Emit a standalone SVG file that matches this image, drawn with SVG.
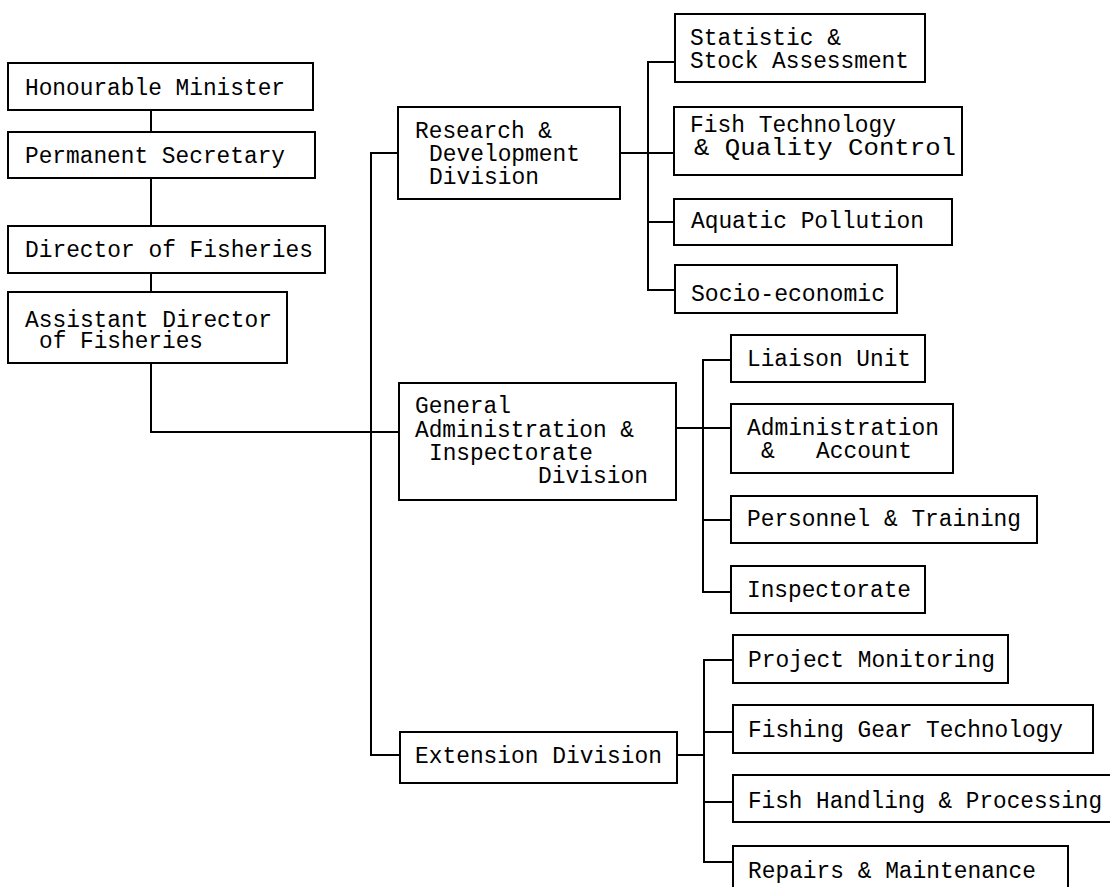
<svg xmlns="http://www.w3.org/2000/svg" width="1110" height="887" viewBox="0 0 1110 887">
<style>
.box{fill:#fff;stroke:#000;stroke-width:2}
.ln{fill:none;stroke:#000;stroke-width:2}
text{font-family:"Liberation Mono","Courier New",monospace;font-size:23px;fill:#000}
</style>
<rect x="0" y="0" width="1110" height="887" fill="#fff"/>
<g id="connectors">
<path class="ln" d="M151 110V132M151 178V226M151 273V292M151 363V432H398"/>
<path class="ln" d="M398 153H371V755H400"/>
<path class="ln" d="M620 153H648M675 62H648V290H675M648 222H675M648 153H674"/>
<path class="ln" d="M676 428H731M731 360H703V592H731M703 520H731"/>
<path class="ln" d="M677 755H704M733 660H704V862H733M704 732H733M704 802H733"/>
</g>
<g id="minister"><rect class="box" x="8" y="63" width="305" height="47"/><text x="25" y="95" textLength="260" lengthAdjust="spacingAndGlyphs">Honourable Minister</text></g>
<g id="secretary"><rect class="box" x="8" y="132" width="307" height="46"/><text x="25" y="163" textLength="260" lengthAdjust="spacingAndGlyphs">Permanent Secretary</text></g>
<g id="director"><rect class="box" x="8" y="226" width="317" height="47"/><text x="25" y="257" textLength="288" lengthAdjust="spacingAndGlyphs">Director of Fisheries</text></g>
<g id="asst-director"><rect class="box" x="8" y="292" width="279" height="71"/><text x="25" y="327" textLength="247" lengthAdjust="spacingAndGlyphs">Assistant Director</text><text x="39" y="348" textLength="164" lengthAdjust="spacingAndGlyphs">of Fisheries</text></g>
<g id="research"><rect class="box" x="398" y="107" width="222" height="92"/><text x="415" y="138" textLength="137" lengthAdjust="spacingAndGlyphs">Research &amp;</text><text x="429" y="161" textLength="151" lengthAdjust="spacingAndGlyphs">Development</text><text x="429" y="184" textLength="110" lengthAdjust="spacingAndGlyphs">Division</text></g>
<g id="statistic"><rect class="box" x="675" y="14" width="250" height="68"/><text x="690" y="45" textLength="151" lengthAdjust="spacingAndGlyphs">Statistic &amp;</text><text x="690" y="68" textLength="219" lengthAdjust="spacingAndGlyphs">Stock Assessment</text></g>
<g id="fishtech"><rect class="box" x="674" y="107" width="288" height="68"/><text x="690" y="132" textLength="206" lengthAdjust="spacingAndGlyphs">Fish Technology</text><text x="694" y="155" textLength="262" lengthAdjust="spacingAndGlyphs">&amp; Quality Control</text></g>
<g id="aquatic"><rect class="box" x="674" y="199" width="278" height="46"/><text x="691" y="228" textLength="233" lengthAdjust="spacingAndGlyphs">Aquatic Pollution</text></g>
<g id="socio"><rect class="box" x="675" y="265" width="222" height="48"/><text x="691" y="301" textLength="194" lengthAdjust="spacingAndGlyphs">Socio-economic</text></g>
<g id="genadmin"><rect class="box" x="399" y="383" width="277" height="117"/><text x="415" y="413" textLength="96" lengthAdjust="spacingAndGlyphs">General</text><text x="415" y="437" textLength="219" lengthAdjust="spacingAndGlyphs">Administration &amp;</text><text x="429" y="460" textLength="164" lengthAdjust="spacingAndGlyphs">Inspectorate</text><text x="538" y="483" textLength="110" lengthAdjust="spacingAndGlyphs">Division</text></g>
<g id="liaison"><rect class="box" x="731" y="335" width="194" height="47"/><text x="747" y="366" textLength="164" lengthAdjust="spacingAndGlyphs">Liaison Unit</text></g>
<g id="adminacc"><rect class="box" x="731" y="404" width="222" height="69"/><text x="747" y="435" textLength="192" lengthAdjust="spacingAndGlyphs">Administration</text><text x="761" y="458">&amp;</text><text x="816" y="458" textLength="96" lengthAdjust="spacingAndGlyphs">Account</text></g>
<g id="personnel"><rect class="box" x="731" y="496" width="306" height="47"/><text x="747" y="526" textLength="274" lengthAdjust="spacingAndGlyphs">Personnel &amp; Training</text></g>
<g id="inspectorate"><rect class="box" x="731" y="566" width="194" height="47"/><text x="747" y="597" textLength="164" lengthAdjust="spacingAndGlyphs">Inspectorate</text></g>
<g id="extension"><rect class="box" x="400" y="732" width="277" height="51"/><text x="415" y="763" textLength="247" lengthAdjust="spacingAndGlyphs">Extension Division</text></g>
<g id="project"><rect class="box" x="733" y="635" width="275" height="48"/><text x="748" y="667" textLength="247" lengthAdjust="spacingAndGlyphs">Project Monitoring</text></g>
<g id="gear"><rect class="box" x="733" y="705" width="360" height="48"/><text x="748" y="737" textLength="315" lengthAdjust="spacingAndGlyphs">Fishing Gear Technology</text></g>
<g id="handling"><rect class="box" x="733" y="775" width="385" height="47"/><text x="748" y="808" textLength="354" lengthAdjust="spacingAndGlyphs">Fish Handling &amp; Processing</text></g>
<g id="repairs"><rect class="box" x="733" y="846" width="335" height="60"/><text x="748" y="878" textLength="288" lengthAdjust="spacingAndGlyphs">Repairs &amp; Maintenance</text></g>
</svg>
